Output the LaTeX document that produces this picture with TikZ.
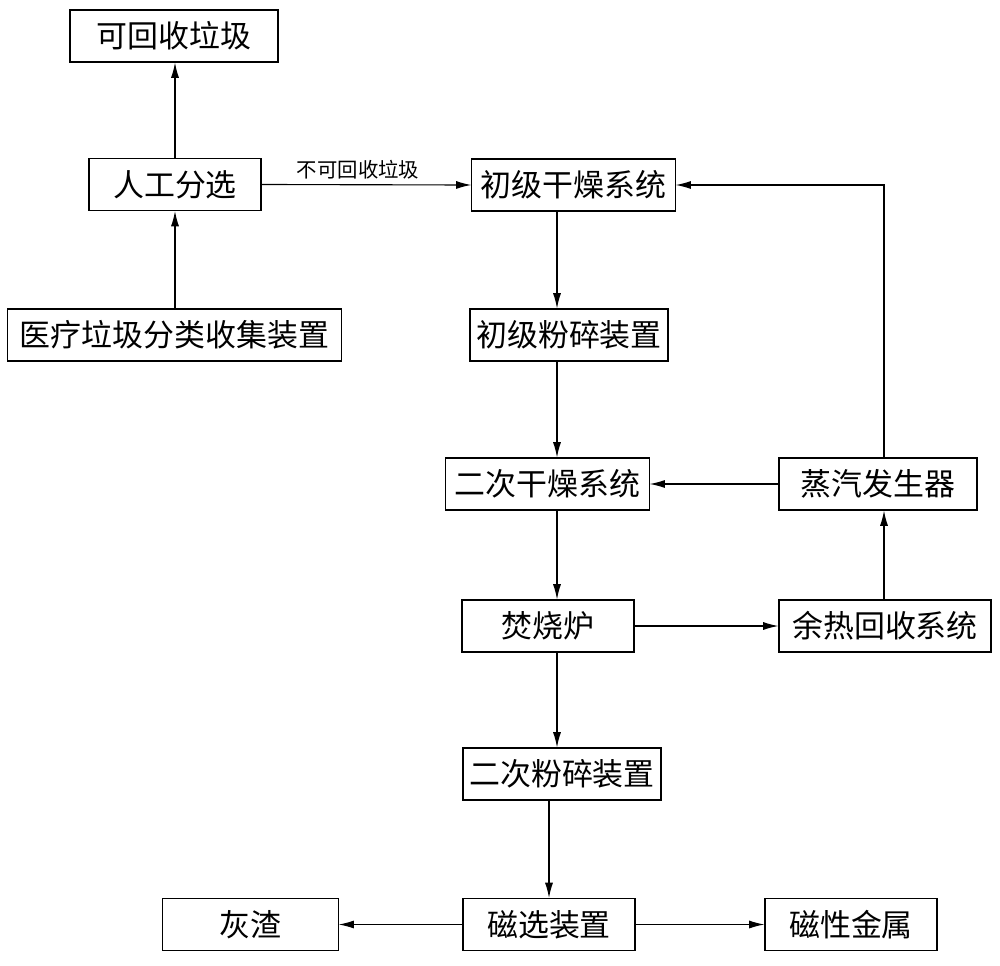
\documentclass[tikz,border=0pt]{standalone}
\usepackage{fontspec}
\setmainfont{Noto Sans CJK SC}
\usetikzlibrary{arrows.meta,positioning}
\tikzset{box/.style={draw,line width=0.8pt,minimum height=1.3cm,inner sep=0pt,font=\fontsize{22}{25}\selectfont},
 arr/.style={line width=0.8pt,-{Latex[length=3.8mm,width=2mm]}},
 lbl/.style={font=\fontsize{14.5}{17}\selectfont}}

\begin{document}
\begin{tikzpicture}[x=0.025cm,y=-0.025cm]
   \useasboundingbox (0,0) rectangle (1000,966);
   % left column
   \node[box,minimum width=5.2cm]  (recyc)   at (174,36)    {可回收垃圾};
   \node[box,minimum width=4.3cm]  (sort)    at (175,184.5) {人工分选};
   \node[box,minimum width=8.33cm] (collect) at (174.5,335) {医疗垃圾分类收集装置};
   % middle column
   \node[box,minimum width=5.08cm] (dry1)    at (573.5,185) {初级干燥系统};
   \node[box,minimum width=4.95cm] (crush1)  at (569,335)   {初级粉碎装置};
   \node[box,minimum width=5.08cm] (dry2)    at (547.5,484) {二次干燥系统};
   \node[box,minimum width=4.3cm]  (furnace) at (548,626)   {焚烧炉};
   \node[box,minimum width=4.95cm] (crush2)  at (562,774)   {二次粉碎装置};
   \node[box,minimum width=4.3cm]  (magsep)  at (549,924.5) {磁选装置};
   % right column
   \node[box,minimum width=4.95cm] (steam)   at (878,484)   {蒸汽发生器};
   \node[box,minimum width=5.3cm]  (heat)    at (885,626)   {余热回收系统};
   \node[box,minimum width=4.38cm] (ash)     at (250.5,924.5) {灰渣};
   \node[box,minimum width=4.3cm]  (metal)   at (851,924.5) {磁性金属};
   \coordinate (colA) at (557,0);
   \coordinate (colB) at (884,0);
   % sorting
   \draw[arr] (collect.north -| sort) -- (sort.south);
   \draw[arr] (sort.north) -- (recyc.south -| sort);
   \draw[arr] (sort.east) -- node[lbl,above,pos=0.46] {不可回收垃圾} (dry1.west);
   % main line
   \draw[arr] (dry1.south -| colA) -- (crush1.north -| colA);
   \draw[arr] (crush1.south -| colA) -- (dry2.north -| colA);
   \draw[arr] (dry2.south -| colA) -- (furnace.north -| colA);
   \draw[arr] (furnace.south -| colA) -- (crush2.north -| colA);
   \draw[arr] (crush2.south -| magsep) -- (magsep.north);
   \draw[arr] (magsep.west) -- (ash.east);
   \draw[arr] (magsep.east) -- (metal.west);
   % heat recovery
   \draw[arr] (furnace.east) -- (heat.west);
   \draw[arr] (heat.north -| colB) -- (steam.south -| colB);
   \draw[arr] (steam.west) -- (dry2.east);
   \draw[arr] (steam.north -| colB) |- (dry1.east);
\end{tikzpicture}
\end{document}
